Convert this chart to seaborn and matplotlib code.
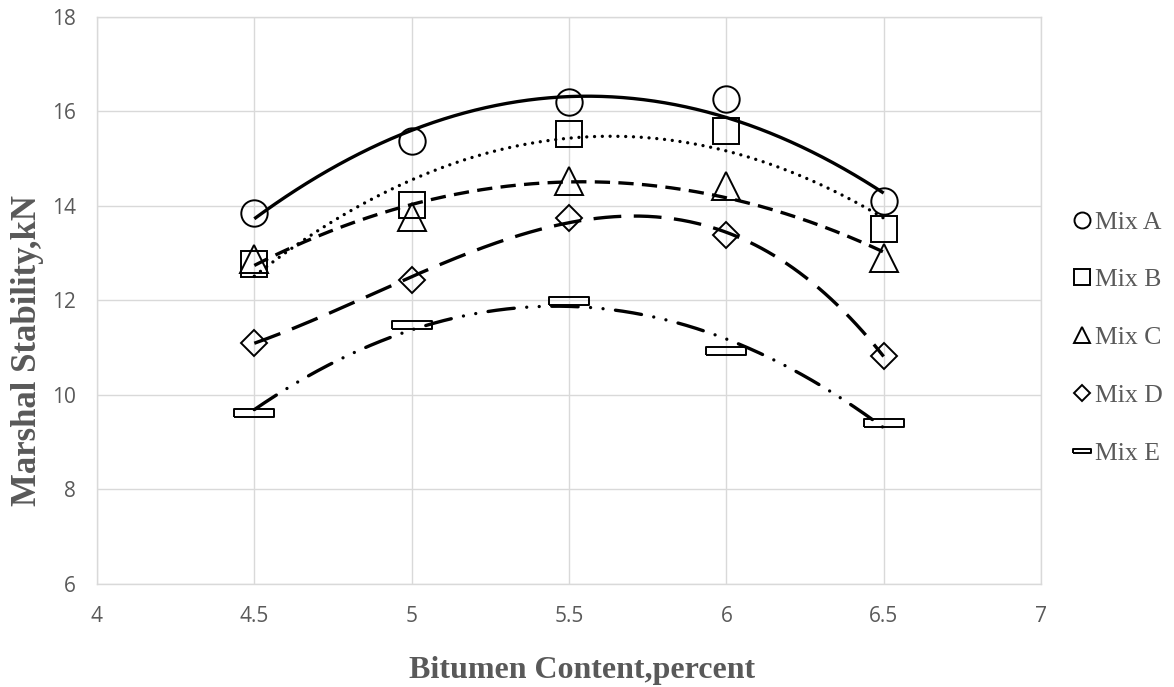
import numpy as np
import pandas as pd
import matplotlib
matplotlib.use("Agg")
import matplotlib.pyplot as plt
from matplotlib.lines import Line2D
import seaborn as sns

# ---- data ----
bitumen = [4.5, 5.0, 5.5, 6.0, 6.5]
mix_names = ["Mix A", "Mix B", "Mix C", "Mix D", "Mix E"]
mix_a = [13.86, 15.38, 16.19, 16.26, 14.10]
mix_b = [12.77, 14.01, 15.53, 15.58, 13.52]
mix_c = [12.87, 13.77, 14.52, 14.42, 12.90]
mix_d = [11.11, 12.44, 13.74, 13.38, 10.83]
mix_e = [9.62, 11.48, 11.98, 10.94, 9.41]
trend_order = [2, 2, 2, 3, 2]
x_ticks = [4, 4.5, 5, 5.5, 6, 6.5, 7]
y_ticks = [6, 8, 10, 12, 14, 16, 18]

series = dict(zip(mix_names, [mix_a, mix_b, mix_c, mix_d, mix_e]))
orders = dict(zip(mix_names, trend_order))

sns.set_theme(style="white")
plt.rcParams["lines.scale_dashes"] = False

rect = [(-1, -0.2), (1, -0.2), (1, 0.2), (-1, 0.2), (-1, -0.2)]
markers = {"Mix A": "o", "Mix B": "s", "Mix C": "^", "Mix D": "D", "Mix E": rect}
msizes = {"Mix A": 19, "Mix B": 19, "Mix C": 20, "Mix D": 13.5, "Mix E": 29}
leg_sizes = {"Mix A": 11.5, "Mix B": 11.5, "Mix C": 11.5, "Mix D": 8.2, "Mix E": 13.5}
styles = {
    "Mix A": dict(linestyle="-", solid_capstyle="butt"),
    "Mix B": dict(linestyle=(0, (0.01, 5.6)), dash_capstyle="round"),
    "Mix C": dict(linestyle=(0, (11, 6)), dash_capstyle="butt"),
    "Mix D": dict(linestyle=(0, (20, 9)), dash_capstyle="butt"),
    "Mix E": dict(linestyle=(0, (19, 9, 0.01, 9, 0.01, 9)), dash_capstyle="round"),
}

points = pd.DataFrame(
    [(b, v, m) for m, vals in series.items() for b, v in zip(bitumen, vals)],
    columns=["Bitumen", "Stability", "Mix"],
)

fig = plt.figure(figsize=(11.74, 6.87), dpi=100)
ax = fig.add_axes([0.0826, 0.150, 0.8041, 0.8253])

gray = "#595959"
grid_c = "#d9d9d9"

xs = np.linspace(min(bitumen), max(bitumen), 300)
for m, vals in series.items():
    coef = np.polyfit(bitumen, vals, orders[m])
    fit = pd.DataFrame({"Bitumen": xs, "Stability": np.polyval(coef, xs)})
    sns.lineplot(data=fit, x="Bitumen", y="Stability", ax=ax, color="black",
                 linewidth=2.4, zorder=3, **styles[m])

for m in mix_names:
    sub = points[points["Mix"] == m]
    ax.plot(sub["Bitumen"], sub["Stability"], linestyle="none",
            marker=markers[m], markersize=msizes[m], markerfacecolor="none",
            markeredgecolor="black", markeredgewidth=1.4, zorder=4)

ax.set_xlim(4, 7)
ax.set_ylim(6, 18)
ax.set_xticks(x_ticks)
ax.set_xticklabels([f"{t:g}" for t in x_ticks])
ax.set_yticks(y_ticks)
ax.grid(True, color=grid_c, linewidth=1.0)
for s in ax.spines.values():
    s.set_color(grid_c)
    s.set_linewidth(1.0)
ax.tick_params(axis="both", length=0, labelsize=15, labelcolor=gray)
ax.tick_params(axis="x", pad=16)
ax.tick_params(axis="y", pad=15)
for lab in ax.get_xticklabels() + ax.get_yticklabels():
    lab.set_family(["Open Sans", "DejaVu Sans"])

xl = ax.set_xlabel("Bitumen Content,percent", fontsize=23, fontweight="bold",
                   color=gray, family=["Liberation Serif", "DejaVu Serif"])
yl = ax.set_ylabel("Marshal Stability,kN", fontsize=25, fontweight="bold",
                   color=gray, family=["Liberation Serif", "DejaVu Serif"])
ax.xaxis.set_label_coords(0.514, -0.152)
xl.set_va("center")
ax.yaxis.set_label_coords(-0.0731, 0.411)
yl.set_va("center")

handles = [Line2D([], [], linestyle="none", marker=markers[m], markersize=leg_sizes[m],
                  markerfacecolor="none", markeredgecolor="black", markeredgewidth=1.4)
           for m in mix_names]
leg = ax.legend(handles, mix_names, loc="center left", bbox_to_anchor=(1.035, 0.434),
                frameon=False, borderpad=0, borderaxespad=0,
                handlelength=0.62, handletextpad=0.2, labelspacing=1.36,
                prop={"family": ["Liberation Serif", "DejaVu Serif"], "size": 18.5})
for t in leg.get_texts():
    t.set_color(gray)

fig.savefig("out.png", dpi=100)
